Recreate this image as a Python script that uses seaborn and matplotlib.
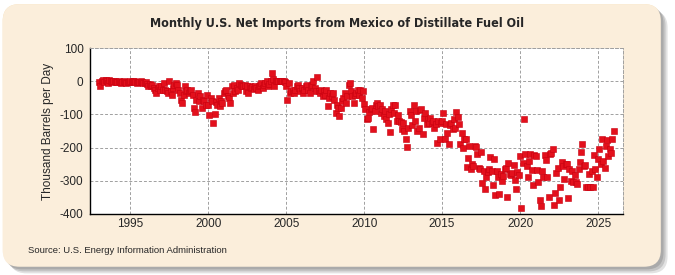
import numpy as np
import pandas as pd
import matplotlib
matplotlib.use("Agg")
import matplotlib.pyplot as plt
from matplotlib.patches import FancyBboxPatch
from matplotlib.colors import LinearSegmentedColormap
import seaborn as sns

# Monthly net imports from Mexico, thousand barrels per day
y1993 = [-3, -15, 2, 4, -2, 3, 0, -5, 4, 1, -2, 0]
y1994 = [0, -2, -3, 0, -1, -4, -2, 0, -3, -5, -2, -1]
y1995 = [0, -2, 2, 0, -3, -5, -1, -2, 0, -3, -6, -4]
y1996 = [-3, -8, -15, -8, -15, -12, -20, -27, -35, -20, -15, -25]
y1997 = [-15, -25, -5, -25, -30, -35, 0, -30, -40, -20, -10, -5]
y1998 = [-10, -25, -35, -55, -65, -40, -15, -30, -25, -35, -30, -25]
y1999 = [-40, -80, -93, -55, -35, -60, -45, -80, -55, -60, -70, -40]
y2000 = [-70, -103, -50, -60, -127, -100, -63, -70, -50, -75, -60, -65]
y2001 = [-35, -30, -25, -45, -50, -65, -15, -35, -10, -30, -20, -25]
y2002 = [-5, -10, -13, -15, -10, -30, -15, -35, -15, -20, -18, -22]
y2003 = [-15, -20, -25, -15, -10, -5, -20, -10, -5, 0, -15, -8]
y2004 = [0, 25, 7, -15, 0, 0, 0, 0, 0, 0, 0, -3]
y2005 = [-15, -57, -5, -35, -30, -25, -35, -25, -15, -10, -20, -28]
y2006 = [-20, -35, -25, -15, -10, -25, -35, -15, -10, 0, -20, -30]
y2007 = [13, -30, -35, -25, -45, -30, -40, -25, -75, -50, -35, -45]
y2008 = [-35, -55, -95, -70, -80, -105, -80, -60, -50, -35, -65, -45]
y2009 = [-10, -5, -30, -45, -65, -40, -35, -25, -40, -25, -50, -30]
y2010 = [-67, -83, -115, -110, -93, -85, -80, -145, -90, -70, -65, -75]
y2011 = [-70, -95, -85, -105, -90, -115, -125, -100, -153, -85, -70, -95]
y2012 = [-70, -120, -103, -120, -123, -145, -125, -150, -175, -197, -140, -90]
y2013 = [-103, -133, -70, -120, -90, -150, -140, -87, -85, -160, -110, -95]
y2014 = [-130, -115, -125, -110, -125, -120, -140, -130, -187, -120, -173, -125]
y2015 = [-120, -97, -173, -130, -155, -190, -133, -125, -145, -115, -140, -93]
y2016 = [-107, -130, -190, -155, -200, -173, -175, -258, -230, -195, -265, -250]
y2017 = [-255, -195, -197, -220, -260, -265, -213, -307, -270, -325, -290, -275]
y2018 = [-265, -228, -270, -312, -233, -342, -270, -290, -340, -280, -300, -285]
y2019 = [-265, -260, -350, -245, -280, -282, -278, -253, -297, -325, -275, -283]
y2020 = [-225, -383, -245, -115, -220, -255, -290, -240, -220, -268, -312, -223]
y2021 = [-225, -268, -303, -357, -375, -270, -288, -223, -237, -288, -348, -220]
y2022 = [-215, -203, -372, -337, -277, -260, -357, -318, -243, -255, -295, -248]
y2023 = [-250, -352, -263, -300, -270, -303, -283, -305, -310, -265, -243, -213]
y2024 = [-190, -255, -253, -318, -318, -280, -318, -270, -318, -223, -263, -288]
y2025 = [-235, -205, -250, -175, -240, -260, -195, -177, -225, -205, -215, -173]
y2026 = [-150]

values = (y1993 + y1994 + y1995 + y1996 + y1997 + y1998 + y1999 + y2000 + y2001
          + y2002 + y2003 + y2004 + y2005 + y2006 + y2007 + y2008 + y2009 + y2010
          + y2011 + y2012 + y2013 + y2014 + y2015 + y2016 + y2017 + y2018 + y2019
          + y2020 + y2021 + y2022 + y2023 + y2024 + y2025 + y2026)

dates = pd.date_range("1993-01-01", periods=len(values), freq="MS")
df = pd.DataFrame({"year": dates.year + (dates.month - 1) / 12.0, "value": values})

year_ticks = [1995, 2000, 2005, 2010, 2015, 2020, 2025]
value_ticks = [100, 0, -100, -200, -300, -400]

sns.set_style("white")
plt.rcParams["font.family"] = ["Liberation Sans", "DejaVu Sans"]

fig = plt.figure(figsize=(6.75, 2.75), dpi=100)
fig.patch.set_facecolor("white")

# rounded beige panel with a soft shadow, drawn in a full-figure axes
bg = fig.add_axes([0, 0, 1, 1], zorder=0)
bg.set_xlim(0, 1)
bg.set_ylim(0, 1)
bg.set_axis_off()
for off, alpha in [(0.010, 0.25), (0.007, 0.35), (0.004, 0.45)]:
    sh = FancyBboxPatch((0.004 + off, 0.03 - off * 2.4), 0.975, 0.955,
                        boxstyle="round,pad=0,rounding_size=0.025",
                        mutation_aspect=2.45, facecolor="#8c8c8c", edgecolor="none", alpha=alpha)
    bg.add_patch(sh)
panel = FancyBboxPatch((0.004, 0.03), 0.975, 0.955, boxstyle="round,pad=0,rounding_size=0.025",
                       mutation_aspect=2.45, facecolor="#fbeedb", edgecolor="none")
bg.add_patch(panel)
grad = np.linspace(1, 0, 256).reshape(-1, 1)
cmap = LinearSegmentedColormap.from_list("panel", ["#f6dcae", "#fbecd6", "#fdf7ee"])
img = bg.imshow(grad, aspect="auto", cmap=cmap, extent=[0, 1, 0, 1], origin="lower")
img.set_clip_path(panel)

ax = fig.add_axes([0.134, 0.222, 0.789, 0.603], zorder=2)
ax.set_facecolor("white")
sns.scatterplot(data=df, x="year", y="value", marker="s", s=13, color="#e3101c",
                edgecolor="#c8000f", linewidth=0.4, ax=ax, zorder=3, clip_on=False)

ax.set_xlim(1992.45, 2026.6)
ax.set_ylim(-400, 100)
ax.set_xticks(year_ticks)
ax.set_yticks(value_ticks)
ax.set_xticklabels([str(t) for t in year_ticks], fontsize=8.5)
ax.set_yticklabels([str(t) for t in value_ticks], fontsize=8.5)
ax.grid(True, color="#a0a0a0", linestyle=(0, (3, 2)), linewidth=0.7)
ax.set_axisbelow(True)
for side in ["top", "right"]:
    ax.spines[side].set_linestyle((0, (3, 2)))
    ax.spines[side].set_color("#a0a0a0")
    ax.spines[side].set_linewidth(0.7)
for side in ["left", "bottom"]:
    ax.spines[side].set_color("black")
    ax.spines[side].set_linewidth(1.0)
ax.tick_params(axis="y", length=4, width=1, color="black", pad=1)
ax.tick_params(axis="x", length=0, pad=3)
ax.set_xlabel("")
ax.set_ylabel("Thousand Barrels per Day", fontsize=8.5, labelpad=4)

fig.text(0.5, 0.915, "Monthly U.S. Net Imports from Mexico of Distillate Fuel Oil",
         ha="center", va="center", fontsize=9, fontweight="bold",
         family="DejaVu Sans", fontstretch="condensed")
fig.text(0.042, 0.09, "Source: U.S. Energy Information Administration", fontsize=6.8,
         ha="left", va="center")

fig.savefig("out.png", dpi=100)
